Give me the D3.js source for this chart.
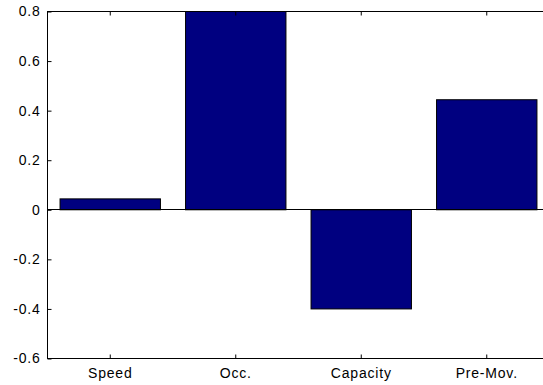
<!DOCTYPE html>
<html>
<head>
<meta charset="utf-8">
<script src="https://d3js.org/d3.v7.min.js"></script>
<style>
  body { margin: 0; background: #fff; }
  text { font-family: "Liberation Sans", Arial, sans-serif; font-size: 14px; fill: #000; }
</style>
</head>
<body>
<div id="chart"></div>
<script>
const categories = ["Speed", "Occ.", "Capacity", "Pre-Mov."];
const values = [0.044, 0.85, -0.40, 0.444];
const yTicks = [-0.6, -0.4, -0.2, 0, 0.2, 0.4, 0.6, 0.8];

const width = 543, height = 385;
const margin = { top: 11, right: -6, bottom: 27, left: 47 };

const svg = d3.select("#chart").append("svg")
  .attr("width", width)
  .attr("height", height);

const x = d3.scaleBand()
  .domain(categories)
  .range([margin.left, width - margin.right])
  .paddingInner(0.2)
  .paddingOuter(0.1);

const y = d3.scaleLinear()
  .domain([-0.6, 0.8])
  .range([height - margin.bottom, margin.top]);

svg.append("defs").append("clipPath").attr("id", "clip")
  .append("rect")
  .attr("x", margin.left)
  .attr("y", y(0.8))
  .attr("width", width - margin.right - margin.left)
  .attr("height", y(-0.6) - y(0.8));

// bars
svg.append("g").attr("clip-path", "url(#clip)")
  .selectAll("rect")
  .data(values)
  .join("rect")
  .attr("x", (d, i) => x(categories[i]) + 0.5)
  .attr("y", d => y(Math.max(0, d)) + 0.5)
  .attr("width", x.bandwidth())
  .attr("height", d => Math.abs(y(d) - y(0)))
  .attr("fill", "#000080")
  .attr("stroke", "#000")
  .attr("stroke-width", 1);

// baseline at zero
svg.append("line")
  .attr("x1", margin.left)
  .attr("x2", width - margin.right)
  .attr("y1", Math.round(y(0)) + 0.5)
  .attr("y2", Math.round(y(0)) + 0.5)
  .attr("stroke", "#000");

// axes (ticks pointing inward, MATLAB style)
const yAxis = d3.axisLeft(y).tickValues(yTicks).tickSize(-4).tickPadding(7)
  .tickFormat(d => d === 0 ? "0" : d3.format(".1f")(d).replace("−", "-"));
const gy = svg.append("g")
  .attr("transform", `translate(${margin.left + 0.5},0.5)`)
  .call(yAxis);
gy.select(".domain").remove();

const xAxis = d3.axisBottom(x).tickSize(-4).tickPadding(10);
const gx = svg.append("g")
  .attr("transform", `translate(0.5,${height - margin.bottom + 0.5})`)
  .call(xAxis);
gx.select(".domain").remove();

const xTop = d3.axisTop(x).tickSize(-4).tickFormat("");
const gt = svg.append("g")
  .attr("transform", `translate(0.5,${margin.top + 0.5})`)
  .call(xTop);
gt.select(".domain").remove();

svg.selectAll(".tick line").attr("stroke", "#000");
svg.selectAll(".tick text")
  .attr("font-size", 14)
  .attr("font-family", "Liberation Sans, Arial, sans-serif")
  .attr("letter-spacing", "0.8px");

// box
svg.append("rect")
  .attr("x", margin.left + 0.5)
  .attr("y", margin.top + 0.5)
  .attr("width", width - margin.right - margin.left)
  .attr("height", y(-0.6) - y(0.8))
  .attr("fill", "none")
  .attr("stroke", "#000");
</script>
</body>
</html>
